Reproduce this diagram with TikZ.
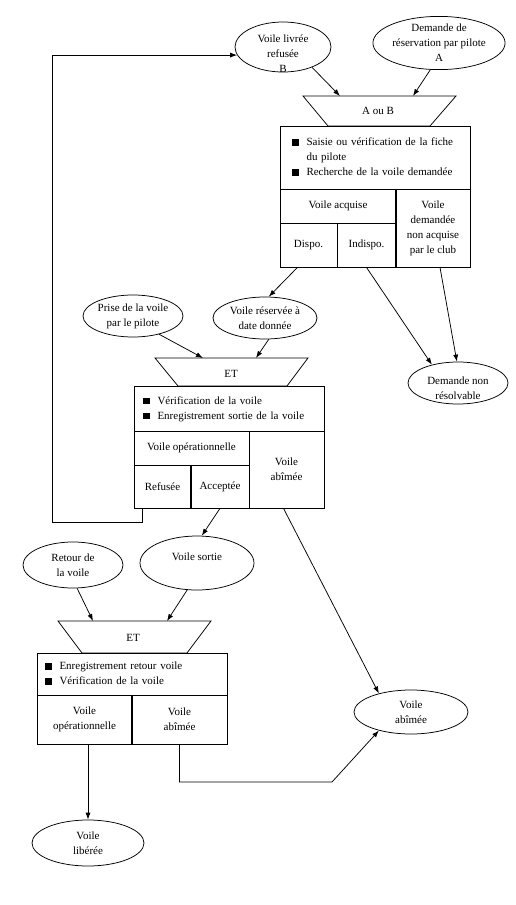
\documentclass[tikz,border=0pt]{standalone}
\usepackage{fontspec}
\setmainfont{Liberation Serif}
\usetikzlibrary{shapes.geometric,arrows.meta}
\tikzset{every picture/.style={line width=0.75pt}}
\newcommand{\blt}{\rule{6.5pt}{6.5pt}}

\begin{document}
\begin{tikzpicture}[x=1pt,y=1pt,yscale=-1,
	font=\fontsize{11}{15}\selectfont,
	oval/.style={draw, ellipse, inner sep=0pt, align=center},
	cell/.style={draw, inner sep=0pt, align=center},
	list/.style={cell, align=left},
	txt/.style={inner sep=0pt, align=center},
	arr/.style={-{Latex[length=7pt,width=5pt]}},
	thk/.style={line width=1.5pt}]
	\useasboundingbox (0,0) rectangle (516,905);

	% inputs of the first step
	\node[oval, minimum width=96pt, minimum height=50pt] (livree) at (283,47) {};
	\node[txt] (livreetxt) at (283,54) {Voile livrée\\refusée\\B};
	\node[oval, minimum width=128pt, minimum height=50pt] (demande) at (439,43) {Demande de\\réservation par pilote\\A};

	% step: A ou B
	\draw (303,96) -- (456,96) -- (430,126) -- (328,126) -- cycle;
	\node[txt] (ouAB) at (378,111) {A ou B};
	\coordinate (inA1) at (340,96);
	\coordinate (inA2) at (413,96);
	\node[list, text width=166pt, minimum width=190pt, minimum height=63pt] (fiche) at (375,157.5)
		{\begin{tabular}{@{}l@{\hspace{8pt}}l@{}}\blt & Saisie ou vérification de la fiche\\ & du pilote\\ \blt & Recherche de la voile demandée\end{tabular}};
	\node[cell, minimum width=116pt, minimum height=34pt] (acquise) at (338,206) {Voile acquise};
	\node[cell, minimum width=57pt, minimum height=44pt] (dispo) at (308.5,245) {Dispo.};
	\node[cell, minimum width=59pt, minimum height=44pt] (indispo) at (366.5,245) {Indispo.};
	\node[cell, minimum width=74pt, minimum height=78pt] (nonacq) at (433,228) {Voile\\demandée\\non acquise\\par le club};
	\draw[thk] (nonacq.north west) -- (nonacq.south west);

	\node[oval, minimum width=100pt, minimum height=42pt] (nonres) at (458,383) {};
	\node[txt] (nonrestxt) at (458,388) {Demande non\\résolvable};

	% step: ET (sortie)
	\node[oval, minimum width=100pt, minimum height=42pt] (prise) at (133,316) {Prise de la voile\\par le pilote};
	\node[oval, minimum width=104pt, minimum height=42pt] (reserve) at (265,318) {Voile réservée à\\date donnée};
	\draw (155,358) -- (308,358) -- (287,386) -- (178,386) -- cycle;
	\node[txt] (etB) at (231,374) {ET};
	\coordinate (inB1) at (203,358);
	\coordinate (inB2) at (256,358);
	\node[list, text width=172pt, minimum width=190pt, minimum height=45pt] (verif) at (229,408.5)
		{\begin{tabular}{@{}l@{\hspace{8pt}}l@{}}\blt & Vérification de la voile\\ \blt & Enregistrement sortie de la voile\end{tabular}};
	\node[cell, minimum width=115pt, minimum height=34pt] (opera) at (191.5,448) {Voile opérationnelle};
	\node[cell, minimum width=57pt, minimum height=43pt] (refusee) at (162.5,486.5) {Refusée};
	\node[cell, minimum width=58pt, minimum height=43pt] (acceptee) at (220,486.5) {Acceptée};
	\node[cell, minimum width=75pt, minimum height=77pt] (abimeeA) at (286.5,469.5) {Voile\\abîmée};
	\draw[thk] (opera.south west) -- (opera.south east);
	\draw[thk] (acceptee.north west) -- (acceptee.south west);

	% step: ET (retour)
	\node[oval, minimum width=100pt, minimum height=46pt] (retour) at (73,565) {Retour de\\la voile};
	\node[oval, minimum width=114pt, minimum height=54pt] (sortie) at (197,563) {};
	\node[txt] (sortietxt) at (197,557) {Voile sortie};
	\draw (58,621) -- (211,621) -- (187,653) -- (82,653) -- cycle;
	\node[txt] (etC) at (133,638) {ET};
	\coordinate (inC1) at (93,621);
	\coordinate (inC2) at (167,621);
	\node[list, text width=174pt, minimum width=190pt, minimum height=42pt] (retourtxt) at (132,674)
		{\begin{tabular}{@{}l@{\hspace{8pt}}l@{}}\blt & Enregistrement retour voile\\ \blt & Vérification de la voile\end{tabular}};
	\node[cell, minimum width=95pt, minimum height=49pt] (operaB) at (84.5,719.5) {Voile\\opérationnelle};
	\node[cell, minimum width=95pt, minimum height=49pt] (abimeeB) at (179.5,719.5) {Voile\\abîmée};
	\draw[thk] (abimeeB.north west) -- (abimeeB.south west);

	\node[oval, minimum width=114pt, minimum height=44pt] (abimeeC) at (411,712) {Voile\\abîmée};
	\node[oval, minimum width=112pt, minimum height=46pt] (liberee) at (88,843) {Voile\\libérée};

	% connectors
	\coordinate (loopA) at (52,522);
	\coordinate (bendC) at (332,782);
	\draw[arr] (livree.-35) -- (inA1);
	\draw[arr] (demande.-108) -- (inA2);
	\draw[arr] ([xshift=-11pt]dispo.south) -- (reserve.80);
	\draw[arr] (indispo.south) -- (nonres.145);
	\draw[arr] ([xshift=7pt]nonacq.south) -- (nonres.93);
	\draw[arr] (prise.-35) -- (inB1);
	\draw[arr] (reserve.-80) -- (inB2);
	\draw[arr] ([xshift=-20pt]refusee.south) |- (loopA) |- (livree.190);
	\draw[arr] (acceptee.south) -- (sortie.80);
	\draw[arr] ([xshift=-3pt]abimeeA.south) -- (abimeeC.150);
	\draw[arr] (retour.-80) -- (inC1);
	\draw[arr] (sortie.-110) -- (inC2);
	\draw[arr] (liberee.north |- operaB.south) -- (liberee.north);
	\draw[arr] (abimeeB.south) |- (bendC) -- (abimeeC.-150);

\end{tikzpicture}
\end{document}
